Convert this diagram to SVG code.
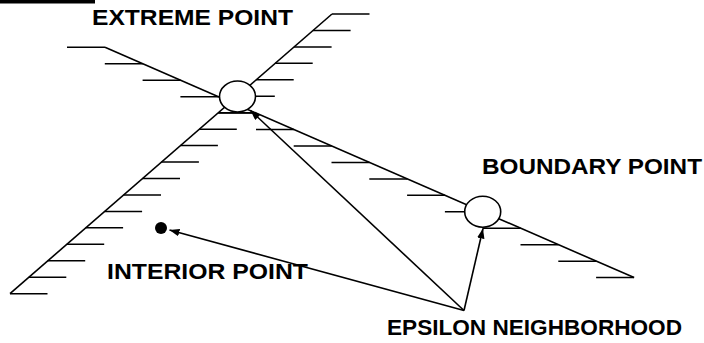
<svg xmlns="http://www.w3.org/2000/svg" width="704" height="343" viewBox="0 0 704 343">
  <style>
    .edge { stroke: #000; stroke-width: 1.6; fill: none; }
    .hatch { stroke: #000; stroke-width: 1.5; fill: none; }
    .pt { stroke: #000; stroke-width: 1.6; fill: #fff; }
    .lbl { font-family: "Liberation Sans", Arial, sans-serif; font-weight: bold; font-size: 22px; fill: #000; }
    .link { stroke: #000; stroke-width: 1.6; fill: none; marker-end: url(#head); }
  </style>
  <defs>
    <marker id="head" markerUnits="userSpaceOnUse" markerWidth="11" markerHeight="8" refX="10" refY="3.75" orient="auto">
      <path d="M0,0 L10,3.75 L0,7.5 z" fill="#000"/>
    </marker>
  </defs>

  <rect width="704" height="343" fill="#fff"/>
  <rect x="0" y="0" width="95" height="3.5" fill="#000"/>

  <!-- constraint rising to the upper right, hatched on its right side -->
  <g id="constraint-b">
    <path class="edge" d="M10,293.65 L332,14"/>
    <path class="hatch" d="M332,14H369.5 M313.1,30.45H350.6 M294.1,46.9H331.6 M275.2,63.35H312.7 M256.2,79.8H293.7 M237.3,96.25H274.8 M218.3,112.7H255.8 M199.3,129.15H236.8 M180.4,145.6H217.9 M161.4,162.05H198.9 M142.5,178.5H180 M123.5,194.95H161 M104.6,211.4H142.1 M85.6,227.85H123.1 M66.7,244.3H104.2 M47.7,260.75H85.2 M28.8,277.2H66.3 M10,293.65H47.5"/>
  </g>

  <!-- constraint falling to the lower right, hatched on its left side -->
  <g id="constraint-a">
    <path class="edge" d="M105,47.3 L634.1,277.6"/>
    <path class="hatch" d="M67,47.3H105 M104.8,63.75H142.8 M142.6,80.2H180.6 M180.4,96.65H218.4 M218.2,113.1H256.2 M256,129.55H294 M293.7,146H331.7 M331.5,162.45H369.5 M369.3,178.9H407.3 M407.1,195.35H445.1 M444.9,211.8H482.9 M482.7,228.25H520.7 M520.5,244.7H558.5 M558.3,261.15H596.3 M596.1,277.6H634.1"/>
  </g>

  <!-- arrows from the neighbourhood label -->
  <g id="connectors">
    <path class="link" d="M464,310.5 L250.5,110.5"/>
    <path class="link" d="M464,310.5 L483,228.5"/>
    <path class="link" d="M464,310.5 L169.5,230"/>
  </g>

  <g id="extreme-point">
    <ellipse class="pt" cx="237.5" cy="96.5" rx="18" ry="15.5"/>
    <text class="lbl" x="92" y="25" textLength="201" lengthAdjust="spacingAndGlyphs">EXTREME POINT</text>
  </g>

  <g id="boundary-point">
    <ellipse class="pt" cx="482.7" cy="211.7" rx="18" ry="15.5"/>
    <text class="lbl" x="482" y="174" textLength="220" lengthAdjust="spacingAndGlyphs">BOUNDARY POINT</text>
  </g>

  <g id="interior-point">
    <circle cx="161" cy="228" r="6" fill="#000"/>
    <text class="lbl" x="107" y="278.5" textLength="201" lengthAdjust="spacingAndGlyphs">INTERIOR POINT</text>
  </g>

  <g id="epsilon-neighborhood">
    <text class="lbl" x="387" y="335" textLength="295" lengthAdjust="spacingAndGlyphs">EPSILON NEIGHBORHOOD</text>
  </g>
</svg>
